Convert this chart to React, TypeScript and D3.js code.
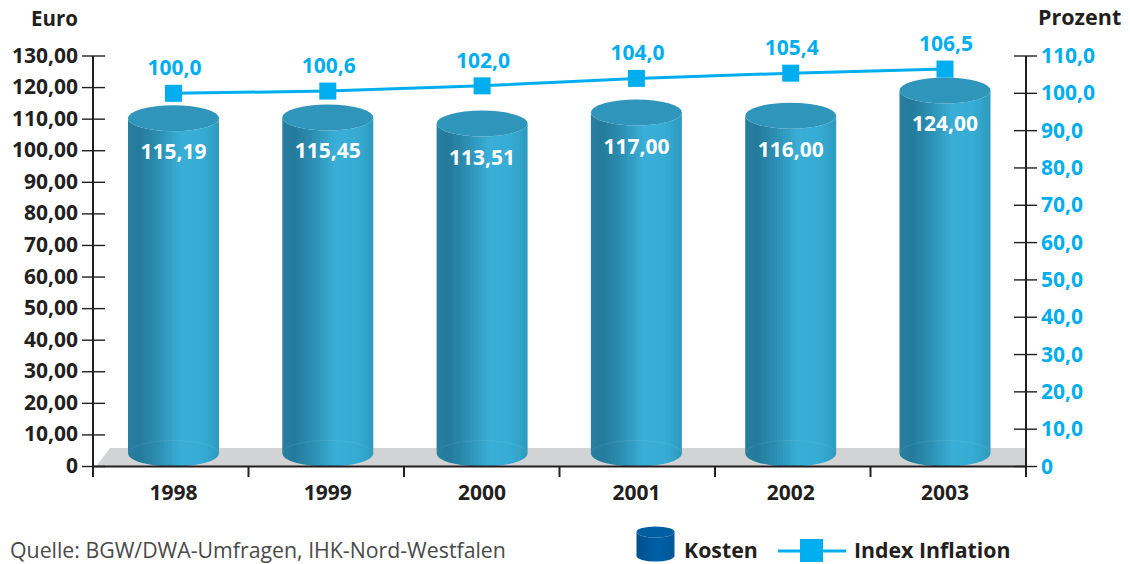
import React from "react";
import * as d3 from "d3";

const years = ["1998", "1999", "2000", "2001", "2002", "2003"];
const kosten = [115.19, 115.45, 113.51, 117.0, 116.0, 124.0];
const inflation = [100.0, 100.6, 102.0, 104.0, 105.4, 106.5];
const euroTicks = [0, 10, 20, 30, 40, 50, 60, 70, 80, 90, 100, 110, 120, 130];
const prozentTicks = [0, 10, 20, 30, 40, 50, 60, 70, 80, 90, 100, 110];

const W = 1130;
const H = 564;
const DARK = "#231f20";
const CYAN = "#00aeef";
const FONT = "'Open Sans', 'Noto Sans', sans-serif";

const AXIS_L = 93;
const AXIS_R = 1026;
const Y0 = 466.5;
const YTOP = 56;
const RX = 45.5;
const RY = 13;

const euro = d3.scaleLinear().domain([0, 130]).range([Y0, YTOP]);
const prozent = d3.scaleLinear().domain([0, 110]).range([Y0, YTOP]);
const xCenter = d3.scalePoint<string>().domain(years).range([173.5, 945]);
const xBand = d3.scaleBand<string>().domain(years).range([AXIS_L, AXIS_R]);

const de = (v: number, digits: number) => v.toFixed(digits).replace(".", ",");

function cylinderPath(cx: number, top: number, bottom: number, rx: number, ry: number) {
  return `M${cx - rx},${top} A${rx},${ry} 0 0 0 ${cx + rx},${top} L${cx + rx},${bottom} A${rx},${ry} 0 0 1 ${cx - rx},${bottom} Z`;
}

const line = d3
  .line<number>()
  .x((_, i) => xCenter(years[i]) as number)
  .y((d) => prozent(d));

// The cylinder shading is built from hard-edged vertical facets.
const shade = d3
  .scaleLinear<string>()
  .domain([0, 0.12, 0.3, 0.58, 0.82, 1])
  .range(["#2a7f9f", "#237a9b", "#2b8bae", "#39aed6", "#36abd3", "#2e9abe"]);
const FACETS = 34;
const facetStops = d3.range(FACETS).flatMap((i) => {
  const color = shade((i + 0.5) / FACETS);
  return [
    { offset: i / FACETS, color },
    { offset: (i + 1) / FACETS, color },
  ];
});

export default function App() {
  return (
    <svg
      width={W}
      height={H}
      viewBox={`0 0 ${W} ${H}`}
      style={{ position: "absolute", left: 0, top: 0, background: "#fff" }}
      fontFamily={FONT}
    >
      <defs>
        <linearGradient id="body" x1="0" x2="1" y1="0" y2="0">
          {facetStops.map((s, i) => (
            <stop key={i} offset={s.offset} stopColor={s.color} />
          ))}
        </linearGradient>
        <linearGradient id="legendBody" x1="0" x2="1" y1="0" y2="0">
          <stop offset="0" stopColor="#004f8c" />
          <stop offset="0.6" stopColor="#0061a8" />
          <stop offset="1" stopColor="#005697" />
        </linearGradient>
      </defs>

      {/* floor */}
      <polygon points={`96,${Y0} 110,448 ${AXIS_R},448 ${AXIS_R},${Y0}`} fill="#d1d3d4" />

      {/* cylinders */}
      {kosten.map((v, i) => {
        const cx = xCenter(years[i]) as number;
        const top = euro(v) + 2.5 + RY;
        const bottom = Y0 - RY;
        return (
          <g key={years[i]}>
            <path d={cylinderPath(cx, top, bottom, RX, RY)} fill="url(#body)" />
            <path
              d={`M${cx - RX},${bottom} A${RX},${RY} 0 0 1 ${cx + RX},${bottom}`}
              fill="none"
              stroke="#fff"
              strokeOpacity={0.08}
            />
            <ellipse cx={cx} cy={top} rx={RX} ry={RY} fill="#3095ba" />
            <text
              x={cx}
              y={top + 41}
              textAnchor="middle"
              fontSize={21}
              fontWeight={700}
              fill="#fff"
            >
              {de(v, 2)}
            </text>
          </g>
        );
      })}

      {/* axes */}
      <g stroke={DARK} fill="none">
        <line x1={AXIS_L} x2={AXIS_L} y1={YTOP} y2={477} strokeWidth={2} />
        <line x1={AXIS_R} x2={AXIS_R} y1={YTOP} y2={477} strokeWidth={2} />
        <line x1={AXIS_L} x2={AXIS_R} y1={Y0} y2={Y0} strokeWidth={2} />
        {euroTicks.map((t) => (
          <line key={t} x1={82} x2={105} y1={euro(t)} y2={euro(t)} strokeWidth={1.4} />
        ))}
        {prozentTicks.map((t) => (
          <line key={t} x1={1014} x2={1037} y1={prozent(t)} y2={prozent(t)} strokeWidth={1.4} />
        ))}
        {years.slice(1).map((y) => {
          const x = xBand(y) as number;
          return <line key={y} x1={x} x2={x} y1={Y0} y2={477} strokeWidth={2} />;
        })}
      </g>

      {/* tick labels */}
      <g fontSize={21} fontWeight={700} fill={DARK} textAnchor="end">
        {euroTicks.map((t) => (
          <text key={t} x={78} y={euro(t) + 6.5}>
            {t === 0 ? "0" : de(t, 2)}
          </text>
        ))}
      </g>
      <g fontSize={21} fontWeight={700} fill={CYAN}>
        {prozentTicks.map((t) => (
          <text key={t} x={1041} y={prozent(t) + 7}>
            {t === 0 ? "0" : de(t, 1)}
          </text>
        ))}
      </g>
      <g fontSize={21} fontWeight={700} fill={DARK} textAnchor="middle">
        {years.map((y) => (
          <text key={y} x={xCenter(y)} y={500}>
            {y}
          </text>
        ))}
      </g>

      {/* axis titles */}
      <text x={31} y={26} fontSize={20.5} fontWeight={700} fill={DARK}>
        Euro
      </text>
      <text x={1038} y={25} fontSize={21.5} fontWeight={700} fill={DARK}>
        Prozent
      </text>

      {/* inflation index line */}
      <path d={line(inflation) as string} fill="none" stroke={CYAN} strokeWidth={3} />
      {inflation.map((v, i) => {
        const cx = xCenter(years[i]) as number;
        const cy = prozent(v);
        return (
          <g key={years[i]}>
            <rect x={cx - 8.5} y={cy - 8.5} width={17} height={17} fill={CYAN} />
            <text x={cx + 1} y={cy - 18} textAnchor="middle" fontSize={21} fontWeight={700} fill={CYAN}>
              {de(v, 1)}
            </text>
          </g>
        );
      })}

      {/* source */}
      <text x={10} y={557.5} fontSize={21.3} fill="#4a4a4a">
        Quelle: BGW/DWA-Umfragen, IHK-Nord-Westfalen
      </text>

      {/* legend */}
      <path d={cylinderPath(655.5, 532, 556, 19, 5.5)} fill="url(#legendBody)" />
      <ellipse cx={655.5} cy={532} rx={19} ry={5.5} fill="#005ea3" />
      <text x={684} y={557.5} fontSize={21.3} fontWeight={700} fill={DARK}>
        Kosten
      </text>
      <line x1={778} x2={846} y1={551} y2={551} stroke={CYAN} strokeWidth={3} />
      <rect x={800} y={539} width={23} height={23} fill={CYAN} />
      <text x={854} y={557.5} fontSize={21.3} fontWeight={700} fill={DARK}>
        Index Inflation
      </text>
    </svg>
  );
}
